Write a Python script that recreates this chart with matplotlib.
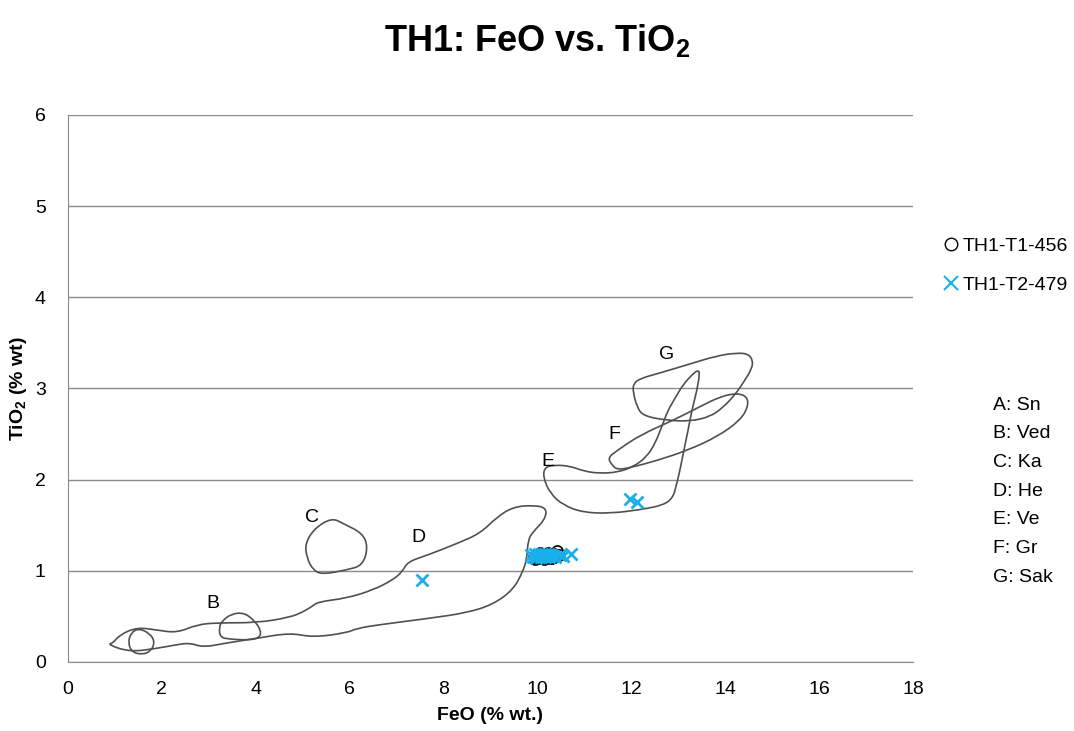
import numpy as np
import matplotlib as mpl
mpl.use('Agg')
import matplotlib.pyplot as plt
from matplotlib.path import Path
from matplotlib.patches import PathPatch
from matplotlib.lines import Line2D

plt.rcParams['font.family'] = ['Liberation Sans', 'DejaVu Sans']
plt.rcParams['mathtext.default'] = 'regular'

# field outlines (FeO, TiO2)
fields = {
    'A': ([1.51, 1.75, 1.85, 1.77, 1.58, 1.36, 1.28, 1.34],
          [0.37, 0.31, 0.22, 0.12, 0.08, 0.11, 0.21, 0.32]),
    'B': ([3.28, 3.49, 3.75, 3.96, 4.11, 4.09, 3.88, 3.45, 3.24, 3.22],
          [0.45, 0.53, 0.54, 0.46, 0.35, 0.27, 0.24, 0.25, 0.27, 0.38]),
    'C': ([5.05, 5.26, 5.62, 5.86, 6.28, 6.39, 6.28, 5.94, 5.41, 5.22, 5.09],
          [1.30, 1.47, 1.58, 1.52, 1.41, 1.26, 1.06, 1.01, 0.96, 1.01, 1.14]),
    'D': ([0.96, 1.11, 1.47, 1.90, 2.32, 2.75, 3.17, 4.03, 4.73, 5.01, 5.20, 5.33,
           5.94, 6.50, 6.92, 7.12, 7.24, 7.65, 8.29, 8.78, 9.14, 9.48, 9.91, 10.20,
           10.16, 9.91, 9.80, 9.78, 9.69, 9.48, 9.05, 8.50, 7.71, 6.65, 6.16, 5.94,
           5.22, 4.73, 4.03, 3.39, 2.88, 2.60, 2.32, 1.90, 1.32, 0.85],
          [0.21, 0.30, 0.38, 0.35, 0.32, 0.41, 0.43, 0.43, 0.49, 0.55, 0.61, 0.66,
           0.70, 0.79, 0.90, 0.99, 1.10, 1.17, 1.30, 1.41, 1.59, 1.70, 1.72, 1.69,
           1.56, 1.43, 1.34, 1.14, 0.99, 0.79, 0.63, 0.54, 0.48, 0.41, 0.37, 0.32,
           0.27, 0.32, 0.26, 0.21, 0.16, 0.21, 0.19, 0.15, 0.11, 0.19]),
    'E': ([10.16, 10.12, 10.27, 10.55, 10.97, 11.55, 12.19, 12.68, 12.89, 12.97,
           13.04, 13.12, 13.21, 13.29, 13.40, 13.46, 13.42, 13.31, 13.10, 12.93,
           12.78, 12.65, 12.51, 12.33, 12.04, 11.70, 11.33, 11.01, 10.69, 10.38],
          [2.14, 2.03, 1.85, 1.72, 1.64, 1.63, 1.67, 1.72, 1.80, 1.96,
           2.11, 2.32, 2.54, 2.76, 2.98, 3.17, 3.20, 3.16, 3.04, 2.89,
           2.76, 2.58, 2.40, 2.25, 2.14, 2.08, 2.07, 2.09, 2.15, 2.16]),
    'F': ([11.59, 11.50, 11.70, 12.19, 12.89, 13.46, 13.89, 14.25, 14.47, 14.49,
           14.32, 13.83, 13.19, 12.55, 11.97, 11.70],
          [2.16, 2.24, 2.32, 2.49, 2.65, 2.80, 2.91, 2.95, 2.91, 2.80,
           2.65, 2.47, 2.32, 2.21, 2.13, 2.11]),
    'G': ([14.59, 14.57, 14.42, 14.21, 13.95, 13.68, 13.25, 12.76, 12.25, 12.12,
           12.04, 12.04, 12.19, 12.61, 13.19, 13.83, 14.25, 14.49],
          [3.31, 3.22, 3.09, 2.93, 2.79, 2.69, 2.64, 2.65, 2.70, 2.80,
           2.96, 3.05, 3.11, 3.17, 3.26, 3.36, 3.39, 3.38]),
}
field_labels = {'B': (3.09, 0.64), 'C': (5.20, 1.59), 'D': (7.46, 1.37),
                'E': (10.23, 2.20), 'F': (11.63, 2.49), 'G': (12.76, 3.37)}
field_names = ['A: Sn', 'B: Ved', 'C: Ka', 'D: He', 'E: Ve', 'F: Gr', 'G: Sak']

# samples
t1_feo = [9.92, 9.98, 10.03, 10.08, 10.12, 10.17, 10.20, 10.24, 10.28, 10.31,
          10.35, 10.38, 10.42, 10.45, 10.05, 10.15, 10.26, 10.36, 9.95, 10.22]
t1_tio2 = [1.15, 1.17, 1.14, 1.18, 1.16, 1.15, 1.19, 1.16, 1.17, 1.14,
           1.18, 1.16, 1.22, 1.17, 1.20, 1.13, 1.14, 1.15, 1.13, 1.20]
t2_feo = [9.86, 9.90, 9.95, 10.00, 10.04, 10.08, 10.12, 10.16, 10.20, 10.25,
          10.30, 10.34, 10.38, 10.48, 10.55, 9.98, 10.10, 10.22, 10.72,
          7.55, 11.97, 12.12]
t2_tio2 = [1.17, 1.15, 1.18, 1.16, 1.19, 1.15, 1.17, 1.18, 1.16, 1.15,
           1.17, 1.16, 1.15, 1.17, 1.16, 1.14, 1.19, 1.18, 1.19,
           0.90, 1.79, 1.75]


def smooth_closed(xs, ys):
    # quadratic bezier through midpoints -> smooth closed outline
    pts = np.column_stack([xs, ys])
    n = len(pts)
    mids = (pts + np.roll(pts, -1, axis=0)) / 2
    verts = [mids[-1]]
    codes = [Path.MOVETO]
    for i in range(n):
        verts += [pts[i], mids[i]]
        codes += [Path.CURVE3, Path.CURVE3]
    return Path(verts, codes)


fig = plt.figure(figsize=(10.74, 7.31), dpi=100)
ax = fig.add_axes([0.0633, 0.0944, 0.7867, 0.7483])

for key, (xs, ys) in fields.items():
    ax.add_patch(PathPatch(smooth_closed(xs, ys), facecolor='none',
                           edgecolor='#505050', linewidth=1.2, zorder=3))
for key, (lx, ly) in field_labels.items():
    ax.text(lx, ly, key, ha='center', va='center', fontsize=14, zorder=4)

ax.plot(t1_feo, t1_tio2, 'o', mfc='none', mec='black', ms=8, mew=1.2,
        linestyle='none', zorder=5)
ax.plot(t2_feo, t2_tio2, 'x', color='#1AAFE8', ms=9, mew=2,
        linestyle='none', zorder=6)

ax.set_xlim(0, 18)
ax.set_ylim(0, 6)
ax.set_xticks(range(0, 19, 2))
ax.set_yticks(range(0, 7))
ax.tick_params(axis='y', length=0, labelsize=14, pad=16)
ax.tick_params(axis='x', length=0, labelsize=14, pad=14)
ax.grid(axis='y', color='#8a8a8a', linewidth=1)
ax.set_axisbelow(True)
for s in ['top', 'right']:
    ax.spines[s].set_visible(False)
for s in ['left', 'bottom']:
    ax.spines[s].set_color('#8a8a8a')

ax.set_xlabel('FeO (% wt.)', fontsize=14, fontweight='bold', labelpad=6)
ax.set_ylabel('TiO$_2$ (% wt)', fontsize=14, fontweight='bold', labelpad=4)
fig.text(0.5, 0.945, 'TH1: FeO vs. TiO$_2$', ha='center', va='center',
         fontsize=26, fontweight='bold')

handles = [
    Line2D([], [], marker='o', mfc='none', mec='black', ms=9, linestyle='none'),
    Line2D([], [], marker='x', color='#1AAFE8', ms=10, mew=1.5, linestyle='none'),
]
fig.legend(handles, ['TH1-T1-456', 'TH1-T2-479'], loc='center left',
           bbox_to_anchor=(0.862, 0.637), frameon=False, fontsize=14,
           handlelength=0.8, handletextpad=0.2, labelspacing=1.1)

for i, name in enumerate(field_names):
    fig.text(0.9245, 1 - (405 + i * 28.7) / 731, name, ha='left', va='center',
             fontsize=14)

fig.savefig('out.png')
